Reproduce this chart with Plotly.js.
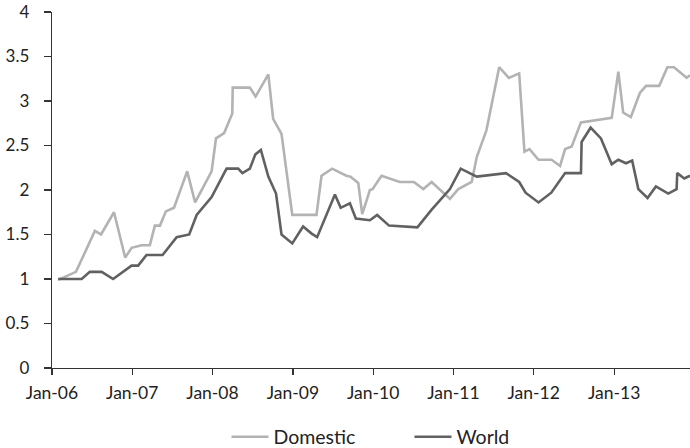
<!DOCTYPE html>
<html>
<head>
<meta charset="utf-8">
<script src="https://cdn.plot.ly/plotly-3.0.1.min.js"></script>
<style>
html,body{margin:0;padding:0;background:#fff;}
#chart{width:690px;height:448px;}
</style>
</head>
<body>
<div id="chart"></div>
<script>
const domesticDates = ['2006-01-29','2006-04-20','2006-07-15','2006-08-12','2006-10-10','2006-11-30','2006-12-29','2007-02-13','2007-03-22','2007-04-14','2007-05-07','2007-06-03','2007-07-10','2007-09-08','2007-10-14','2007-12-28','2008-01-17','2008-02-23','2008-03-31','2008-04-02','2008-06-19','2008-07-15','2008-09-11','2008-10-03','2008-11-10','2008-12-29','2009-04-18','2009-05-11','2009-06-28','2009-09-01','2009-09-20','2009-10-25','2009-11-12','2009-12-17','2009-12-29','2010-02-08','2010-05-02','2010-07-05','2010-08-17','2010-09-24','2010-12-16','2011-01-23','2011-03-25','2011-04-17','2011-05-31','2011-07-28','2011-09-10','2011-10-27','2011-11-20','2011-12-13','2012-01-23','2012-03-22','2012-04-30','2012-05-23','2012-06-22','2012-08-03','2012-12-21','2013-01-20','2013-02-11','2013-03-18','2013-04-28','2013-05-26','2013-07-25','2013-08-31','2013-09-30','2013-11-27','2013-12-12'];
const domestic = [0.99,1.08,1.54,1.50,1.75,1.24,1.35,1.38,1.38,1.60,1.60,1.76,1.80,2.21,1.86,2.21,2.58,2.64,2.86,3.15,3.15,3.05,3.30,2.80,2.63,1.72,1.72,2.16,2.24,2.16,2.15,2.08,1.73,2.00,2.01,2.16,2.09,2.09,2.01,2.09,1.90,2.01,2.09,2.37,2.67,3.38,3.26,3.31,2.43,2.46,2.34,2.34,2.27,2.46,2.49,2.76,2.81,3.33,2.87,2.82,3.09,3.17,3.17,3.38,3.38,3.26,3.29];

const worldDates = ['2006-01-29','2006-05-16','2006-06-22','2006-08-15','2006-10-06','2006-12-29','2007-01-28','2007-03-07','2007-05-19','2007-07-22','2007-09-17','2007-10-21','2007-12-28','2008-03-05','2008-04-27','2008-05-16','2008-06-19','2008-07-14','2008-08-08','2008-09-11','2008-10-16','2008-11-10','2008-12-29','2009-02-16','2009-03-27','2009-04-21','2009-07-11','2009-08-06','2009-09-17','2009-10-14','2009-12-17','2010-01-19','2010-03-14','2010-07-21','2010-09-24','2010-12-16','2011-02-03','2011-04-17','2011-08-28','2011-10-27','2011-11-25','2012-01-23','2012-03-21','2012-05-23','2012-08-03','2012-08-06','2012-09-16','2012-11-02','2012-12-21','2013-01-20','2013-02-24','2013-03-24','2013-04-21','2013-06-02','2013-07-10','2013-09-04','2013-10-12','2013-10-15','2013-11-16','2013-12-12'];
const world = [1.00,1.00,1.08,1.08,1.00,1.15,1.15,1.27,1.27,1.47,1.50,1.72,1.92,2.24,2.24,2.19,2.24,2.40,2.45,2.15,1.96,1.50,1.40,1.59,1.51,1.47,1.95,1.80,1.85,1.68,1.66,1.72,1.60,1.58,1.78,2.01,2.24,2.15,2.19,2.09,1.97,1.86,1.97,2.19,2.19,2.54,2.70,2.58,2.29,2.34,2.30,2.33,2.01,1.91,2.04,1.96,2.01,2.19,2.13,2.16];

const xTickVals = ['2006-01-01','2007-01-01','2008-01-01','2009-01-01','2010-01-01','2011-01-01','2012-01-01','2013-01-01'];
const xTickText = ['Jan-06','Jan-07','Jan-08','Jan-09','Jan-10','Jan-11','Jan-12','Jan-13'];
const yTickVals = [0,0.5,1,1.5,2,2.5,3,3.5,4];
const yTickText = ['0','0.5','1','1.5','2','2.5','3','3.5','4'];
const seriesNames = ['Domestic','World'];

const font = 'Lato, "Open Sans", sans-serif';
const traces = [
  {x: domesticDates, y: domestic, name: seriesNames[0], type: 'scatter', mode: 'lines',
   line: {color: '#b3b3b3', width: 2.6}},
  {x: worldDates, y: world, name: seriesNames[1], type: 'scatter', mode: 'lines',
   line: {color: '#616161', width: 2.6}}
];
const layout = {
  width: 690, height: 448,
  margin: {l: 52, r: 0, t: 12, b: 80, autoexpand: false},
  paper_bgcolor: '#fff', plot_bgcolor: '#fff',
  font: {family: font, size: 17, color: '#222'},
  showlegend: true,
  legend: {orientation: 'h', x: 0.2735, xanchor: 'left', y: -0.194, yanchor: 'middle',
           font: {family: font, size: 19.5, color: '#222'}, itemwidth: 37,
           entrywidth: 131},
  xaxis: {type: 'date', range: ['2006-01-01','2013-12-12'],
          tickmode: 'array', tickvals: xTickVals, ticktext: xTickText,
          showgrid: false, zeroline: false, showline: true, linecolor: '#333', linewidth: 1.3,
          ticks: 'outside', ticklen: 6, tickcolor: '#333', tickwidth: 1.3,
          tickfont: {family: font, size: 17.5, color: '#222'}, ticklabelstandoff: 3},
  yaxis: {range: [0,4], tickmode: 'array', tickvals: yTickVals, ticktext: yTickText,
          showgrid: false, zeroline: false, showline: true, linecolor: '#333', linewidth: 1.3,
          ticks: 'outside', ticklen: 7, tickcolor: '#333', tickwidth: 1.3,
          tickfont: {family: font, size: 17, color: '#222'}, ticklabelstandoff: 11}
};
Plotly.newPlot('chart', traces, layout, {staticPlot: true, displayModeBar: false});
</script>
</body>
</html>
